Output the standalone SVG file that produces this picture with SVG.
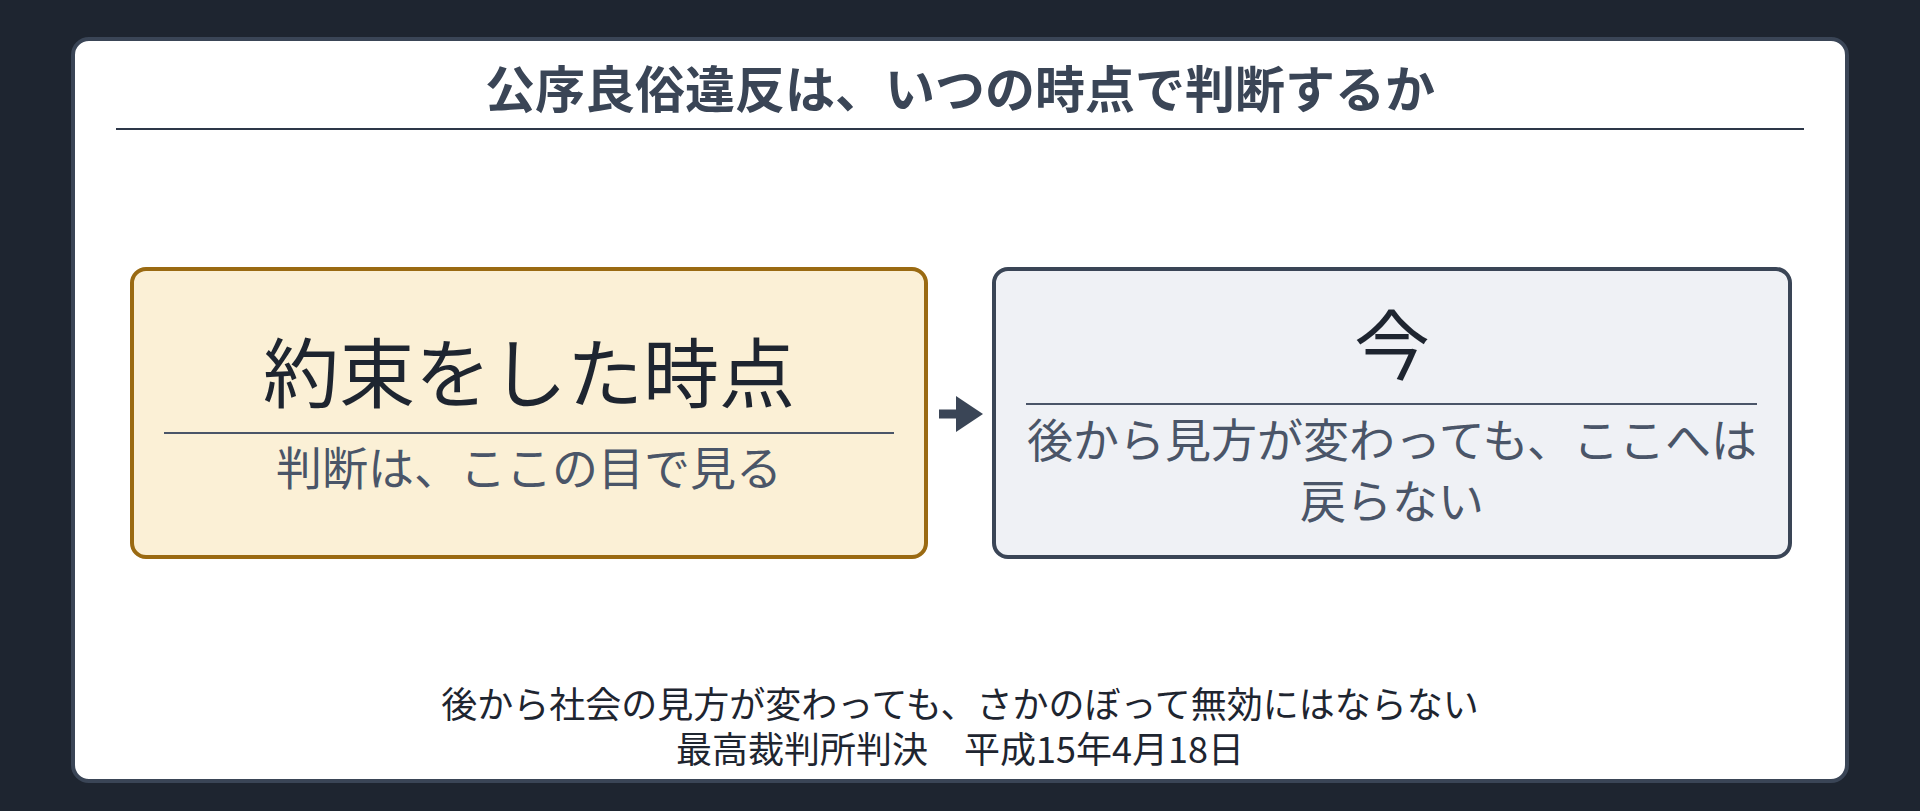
<svg xmlns="http://www.w3.org/2000/svg" width="1920" height="811" viewBox="0 0 1920 811">
<style>
.t{font-family:"Noto Sans CJK JP","Noto Sans",sans-serif;text-anchor:middle}
.sub{fill:#4a5568;font-size:46px}
</style>
<defs><marker id="ah" markerWidth="4" markerHeight="4" refX="2" refY="2" orient="auto" markerUnits="strokeWidth"><path d="M0,0L3,2L0,4z" fill="#3a4556"/></marker></defs>
<rect width="1920" height="811" fill="#1e2530"/>
<rect x="73" y="39" width="1774" height="742" rx="16" fill="#fff" stroke="#3a4556" stroke-width="4"/>
<g id="title"><text class="t" x="960" y="108" font-size="50" font-weight="bold" fill="#3a4556">公序良俗違反は、いつの時点で判断するか</text>
<line x1="116" y1="129" x2="1804" y2="129" stroke="#2d3748" stroke-width="2"/></g>
<g id="left"><rect x="132" y="269" width="794" height="288" rx="14" fill="#fbf0d6" stroke="#9a6a12" stroke-width="4"/>
<text class="t" x="529" y="402" font-size="76" fill="#1e2530">約束をした時点</text>
<line x1="164" y1="433" x2="894" y2="433" stroke="#4a5568" stroke-width="2"/>
<text class="t sub" x="529" y="485">判断は、ここの目で見る</text></g>
<g id="right"><rect x="994" y="269" width="796" height="288" rx="14" fill="#eff1f5" stroke="#3a4556" stroke-width="4"/>
<text class="t" x="1392" y="374" font-size="76" fill="#1e2530">今</text>
<line x1="1026" y1="404" x2="1757" y2="404" stroke="#4a5568" stroke-width="2"/>
<text class="t sub" x="1392" y="457">後から見方が変わっても、ここへは</text>
<text class="t sub" x="1392" y="518">戻らない</text></g>
<g id="connectors"><line x1="939" y1="414" x2="974" y2="414" stroke="#3a4556" stroke-width="9" marker-end="url(#ah)"/></g>
<g id="footer"><text class="t" x="960" y="718" font-size="36" fill="#1e2530">後から社会の見方が変わっても、さかのぼって無効にはならない</text>
<text class="t" x="960" y="763" font-size="36" fill="#1e2530">最高裁判所判決　平成15年4月18日</text></g>
</svg>
